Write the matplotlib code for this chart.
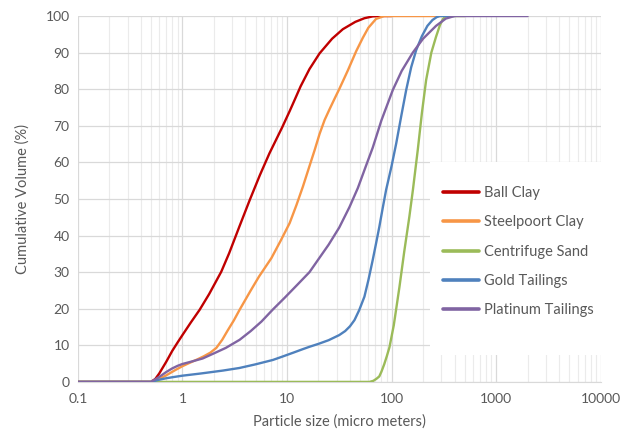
import matplotlib
matplotlib.use("Agg")
import matplotlib.pyplot as plt
from matplotlib.patches import Rectangle
from matplotlib.ticker import FixedLocator, LogLocator, NullFormatter

plt.rcParams['font.family'] = ['Lato', 'DejaVu Sans']

# particle size (micro meters) vs cumulative volume (%)
ball_x = [0.1, 0.5, 0.55, 0.6, 0.7, 0.8, 0.9, 1.0, 1.2, 1.46, 1.8, 2.35, 2.8, 3.52, 4.4, 5.5, 6.8,
          9.0, 10.6, 11.8, 13.5, 16.4, 20.5, 27, 34.2, 45, 55, 66, 80, 100]
ball_y = [0, 0, 0.8, 2.3, 5.5, 8.5, 10.8, 12.8, 16.2, 19.7, 24.0, 30.1, 35.2, 42.6, 49.7, 56.5, 62.5,
          69.6, 74.0, 77.0, 80.8, 85.5, 89.8, 93.8, 96.4, 98.4, 99.4, 99.9, 100, 100]

steel_x = [0.1, 0.5, 0.6, 0.7, 0.85, 1.0, 1.17, 1.4, 1.6, 1.85, 2.11, 2.4, 2.7, 3.1, 3.52, 4.5, 5.4,
           7.08, 8.7, 10.6, 12.3, 14.2, 16.2, 18.4, 20.5, 22.9, 25.5, 28.5, 31.8, 38, 45.9, 53, 60,
           71, 85, 300]
steel_y = [0, 0, 0.8, 1.8, 3.2, 4.3, 5.2, 6.2, 7.0, 8.0, 9.3, 11.5, 14.0, 16.8, 19.7, 25.0, 28.8,
           33.8, 38.6, 43.4, 48.3, 53.4, 58.5, 63.4, 67.8, 71.6, 74.5, 77.4, 80.2, 85.0, 90.4, 94.0,
           96.8, 99.2, 100, 100]

cent_x = [0.1, 61.5, 67, 72, 76.3, 80, 85, 90, 95.5, 105, 119, 132, 148, 160, 178, 195,
          214, 240, 266, 290, 310, 330, 500]
cent_y = [0, 0, 0.3, 0.9, 1.5, 2.8, 4.8, 7.0, 9.5, 15.5, 26.0, 35.5, 45.2, 52.5, 63.4, 73.5,
          82.5, 90.0, 94.3, 97.5, 99.2, 100, 100]

gold_x = [0.1, 0.5, 0.6, 0.7, 0.81, 1.0, 1.5, 2.44, 3.5, 5.0, 7.33, 9.0, 11.5, 14, 16.4, 20, 25, 31.6,
          36, 40, 44.2, 49, 55, 60, 66, 71, 76.4, 82, 88.7, 100, 110.8, 124, 138, 154, 172, 195, 220,
          246, 270, 290, 400]
gold_y = [0, 0, 0.6, 1.0, 1.3, 1.7, 2.3, 3.1, 3.8, 4.8, 6.0, 6.9, 8.0, 8.9, 9.6, 10.4, 11.4, 12.8,
          13.9, 15.2, 16.9, 19.6, 23.3, 27.8, 33.3, 37.8, 42.4, 47.3, 52.5, 59.0, 65.2, 72.8, 79.8,
          86.0, 90.7, 94.5, 97.3, 98.9, 99.7, 100, 100]

plat_x = [0.1, 0.5, 0.55, 0.61, 0.7, 0.8, 0.9, 1.0, 1.2, 1.56, 2.0, 2.6, 3.52, 4.5, 5.7, 7.33, 9.5,
          12.5, 16.4, 20.3, 25, 31.6, 39.6, 47.6, 56, 66, 80, 102.8, 125, 159.6, 200, 266, 330, 400,
          2000]
plat_y = [0, 0, 0.7, 1.5, 2.7, 3.7, 4.4, 4.9, 5.5, 6.4, 7.8, 9.3, 11.5, 13.9, 16.5, 19.8, 23.0,
          26.5, 30.0, 33.8, 37.5, 42.2, 47.8, 53.0, 58.5, 64.0, 71.5, 79.8, 85.0, 90.0, 93.8, 97.3,
          99.3, 100, 100]

series = [
    ("Ball Clay", ball_x, ball_y, "#C00000"),
    ("Steelpoort Clay", steel_x, steel_y, "#F79646"),
    ("Centrifuge Sand", cent_x, cent_y, "#9BBB59"),
    ("Gold Tailings", gold_x, gold_y, "#4F81BD"),
    ("Platinum Tailings", plat_x, plat_y, "#8064A2"),
]

x_ticks = [0.1, 1, 10, 100, 1000, 10000]
x_tick_labels = ["0.1", "1", "10", "100", "1000", "10000"]
y_ticks = list(range(0, 101, 10))

fig = plt.figure(figsize=(6.33, 4.33), dpi=100)
ax = fig.add_axes([0.123, 0.118, 0.826, 0.845])

for name, xs, ys, col in series:
    ax.plot(xs, ys, color=col, lw=1.7, label=name, zorder=3,
            solid_joinstyle='round', solid_capstyle='round')

ax.set_xscale('log')
ax.set_xlim(0.1, 10000)
ax.set_ylim(0, 100)
ax.xaxis.set_major_locator(FixedLocator(x_ticks))
ax.set_xticklabels(x_tick_labels)
ax.xaxis.set_minor_locator(LogLocator(base=10, subs=range(2, 10), numticks=20))
ax.xaxis.set_minor_formatter(NullFormatter())
ax.set_yticks(y_ticks)

ax.grid(which='major', axis='both', color='#D9D9D9', lw=0.9, zorder=0)
ax.grid(which='minor', axis='x', color='#EBEBEB', lw=0.8, zorder=0)
ax.set_axisbelow(True)
for s in ['top', 'right', 'left']:
    ax.spines[s].set_visible(False)
ax.spines['bottom'].set_color('#D9D9D9')
ax.tick_params(which='both', length=0, colors='#595959', labelsize=10)
ax.tick_params(axis='x', pad=8)
ax.tick_params(axis='y', pad=6)

ax.set_xlabel("Particle size (micro meters)", fontsize=10.5, color='#595959', labelpad=7)
ax.set_ylabel("Cumulative Volume (%)", fontsize=10.5, color='#595959', labelpad=11)

# white box behind the legend, covering the grid
ax.add_patch(Rectangle((0.673, 0.074), 0.327, 0.527, transform=ax.transAxes,
                       facecolor='white', edgecolor='none', zorder=2))
leg = ax.legend(loc='upper left', bbox_to_anchor=(0.698, 0.535), frameon=False,
                fontsize=10.5, labelspacing=1.05, handlelength=2.5,
                handletextpad=0.35, borderpad=0, borderaxespad=0)
for t in leg.get_texts():
    t.set_color('#595959')
for h in leg.get_lines():
    h.set_linewidth(2.6)

fig.savefig("out.png", dpi=100)
